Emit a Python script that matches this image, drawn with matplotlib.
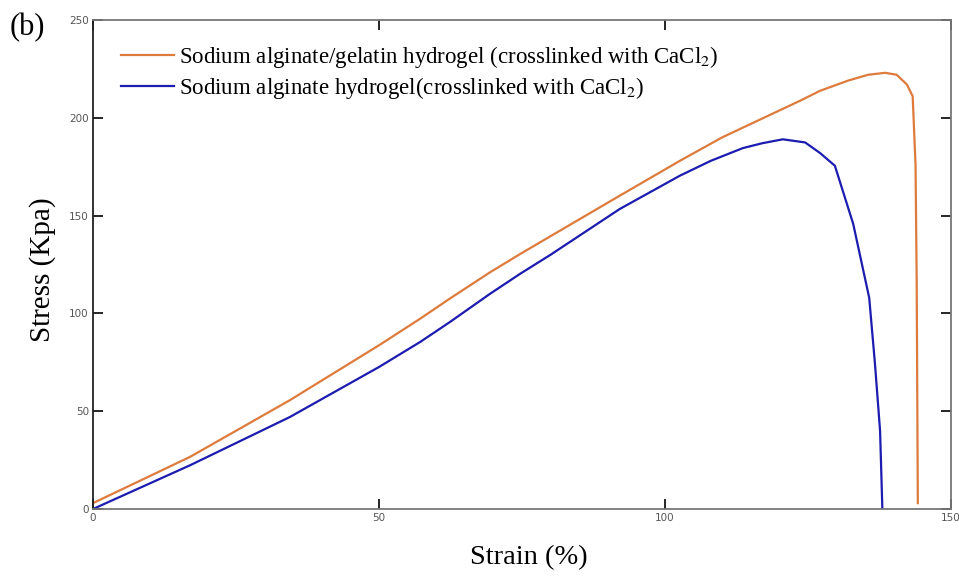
import matplotlib
matplotlib.use("Agg")
import matplotlib.pyplot as plt

# Data
strain_gel = [0, 17, 34.4, 50, 57.2, 62.4, 69.4, 74.7, 80, 92.1, 102.6, 110, 118, 123.6, 127.1, 132, 135.5, 138.5, 140.5, 142.3, 143.3, 143.8, 144.0, 144.2]
stress_gel = [3, 26.7, 55.6, 83.7, 97.3, 107.6, 121, 130.4, 139.5, 160.2, 178, 190, 201, 208.7, 213.8, 219, 222, 223, 222, 217, 211, 176, 117, 3]

strain_alg = [0, 17, 34.4, 50, 57.2, 62.4, 69.4, 74.7, 80, 92.1, 102.6, 108, 113.6, 117, 120.6, 124.5, 127.1, 129.7, 132.9, 135.7, 136.7, 137.6, 138.0]
stress_alg = [0, 22.4, 47, 72.6, 85.4, 95.6, 110, 120.3, 130, 153.4, 170.4, 178, 184.5, 187, 189, 187.4, 182, 175.5, 145.8, 108, 74.5, 40, 0]

labels = ["Sodium alginate/gelatin hydrogel (crosslinked with CaCl$_2$)",
          "Sodium alginate hydrogel(crosslinked with CaCl$_2$)"]
xticks = [0, 50, 100, 150]
yticks = [0, 50, 100, 150, 200, 250]

plt.rcParams['mathtext.fontset'] = 'stix'
W, H = 959, 578
fig = plt.figure(figsize=(W / 100, H / 100), dpi=100)
ax = fig.add_axes([93 / W, 1 - 509 / H, (951 - 93) / W, (509 - 20) / H])

ax.plot(strain_gel, stress_gel, color='#DE7B3C', lw=1.6, label=labels[0])
ax.plot(strain_alg, stress_alg, color='#1C1CB0', lw=1.6, label=labels[1])

ax.set_xlim(0, 150)
ax.set_ylim(0, 250)
ax.set_xticks(xticks)
ax.set_yticks(yticks)
ax.tick_params(direction='in', length=7, width=1.2, labelsize=7.5, labelcolor='#555555',
               top=True, right=True, color='black', pad=3)
for s in ax.spines.values():
    s.set_color('#777777')
    s.set_linewidth(1.3)
ax.spines['left'].set_color('#222222')

leg = ax.legend(loc='upper left', bbox_to_anchor=(121 / W, 1 - 44 / H), bbox_transform=fig.transFigure,
                frameon=False, prop={'family': 'Liberation Serif', 'size': 16.5},
                handlelength=2.3, handletextpad=0.25, labelspacing=0.2, borderpad=0, borderaxespad=0)

fig.text(27 / W, 1 - 28 / H, "(b)", family='Liberation Serif', fontsize=22, ha='center', va='center')
fig.text(43 / W, 1 - 270 / H, "Stress (Kpa)", family='Liberation Serif', fontsize=21,
         ha='center', va='center', rotation=90)
fig.text(529 / W, 1 - 558 / H, "Strain (%)", family='Liberation Serif', fontsize=20.5,
         ha='center', va='center')

fig.savefig("out.png", dpi=100)
